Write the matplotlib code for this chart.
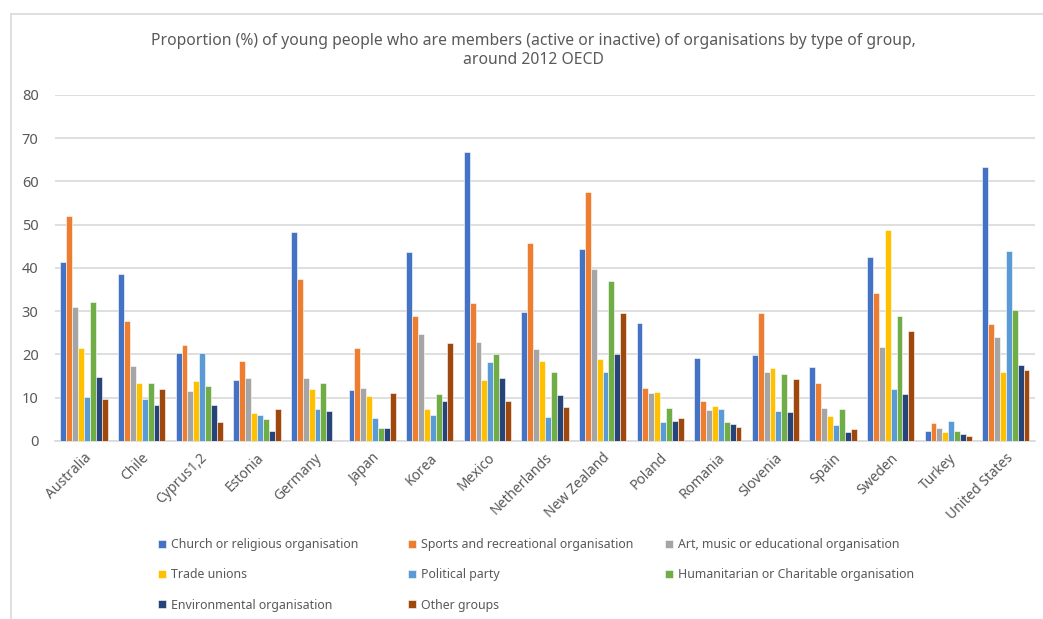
import matplotlib.pyplot as plt
import numpy as np
from matplotlib.lines import Line2D

plt.rcParams['font.family'] = ['Noto Sans', 'DejaVu Sans']

# dane (%)
countries = ["Australia", "Chile", "Cyprus1,2", "Estonia", "Germany", "Japan", "Korea",
             "Mexico", "Netherlands", "New Zealand", "Poland", "Romania", "Slovenia",
             "Spain", "Sweden", "Turkey", "United States"]

series_names = ["Church or religious organisation", "Sports and recreational organisation",
                "Art, music or educational organisation", "Trade unions", "Political party",
                "Humanitarian or Charitable organisation", "Environmental organisation",
                "Other groups"]

church = [41.3, 38.6, 20.3, 14.2, 48.3, 11.9, 43.7, 66.8, 29.8, 44.5, 27.3, 19.2, 19.8, 17.2, 42.6, 2.3, 63.3]
sports = [52.0, 27.8, 22.3, 18.4, 37.5, 21.6, 28.9, 32.0, 45.7, 57.6, 12.3, 9.3, 29.5, 13.5, 34.1, 4.2, 27.1]
art = [31.0, 17.4, 11.6, 14.6, 14.6, 12.2, 24.7, 22.9, 21.3, 39.8, 11.1, 7.1, 16.0, 7.6, 21.8, 3.1, 24.0]
trade = [21.5, 13.4, 13.8, 6.4, 12.0, 10.3, 7.4, 14.1, 18.6, 18.9, 11.3, 8.2, 16.8, 5.8, 48.7, 2.1, 16.0]
political = [10.1, 9.6, 20.3, 6.0, 7.3, 5.2, 6.0, 18.3, 5.6, 16.0, 4.3, 7.4, 7.0, 3.6, 12.0, 4.7, 43.9]
humanitarian = [32.2, 13.4, 12.8, 5.1, 13.4, 2.9, 10.9, 20.1, 16.0, 37.0, 7.6, 4.4, 15.6, 7.3, 28.8, 2.3, 30.3]
environmental = [14.8, 8.3, 8.3, 2.2, 6.9, 3.1, 9.3, 14.5, 10.7, 20.2, 4.7, 3.9, 6.6, 2.0, 10.8, 1.7, 17.5]
other = [9.6, 12.0, 4.5, 7.3, np.nan, 11.1, 22.7, 9.3, 7.8, 29.5, 5.4, 3.3, 14.3, 2.7, 25.4, 1.1, 16.4]

all_series = [church, sports, art, trade, political, humanitarian, environmental, other]
colors = ["#4472C4", "#ED7D31", "#A5A5A5", "#FFC000", "#5B9BD5", "#70AD47", "#264478", "#9E480E"]

txt = "#595959"
grid_c = "#D9D9D9"

fig = plt.figure(figsize=(10.43, 6.19), dpi=100)
ax = fig.add_axes([0.053, 0.2876, 0.939, 0.559])

x = np.arange(len(countries))
n = len(all_series)
bw = 0.82 / n
bars = []
for i, (vals, col) in enumerate(zip(all_series, colors)):
    b = ax.bar(x - 0.41 + bw * (i + 0.5), vals, width=bw, color=col,
               edgecolor="white", linewidth=0.4, label=series_names[i], zorder=3)
    bars.append(b)

ax.set_xlim(-0.5, len(countries) - 0.5)
ax.set_ylim(0, 80)
ax.set_yticks(range(0, 81, 10))
ax.yaxis.grid(True, color=grid_c, linewidth=1.2, zorder=0)
for s in ["top", "right", "left"]:
    ax.spines[s].set_visible(False)
ax.spines["bottom"].set_color(grid_c)
ax.spines["bottom"].set_linewidth(1.2)
ax.tick_params(axis="both", length=0, colors=txt, labelsize=10.5)
ax.tick_params(axis="y", pad=12)
ax.tick_params(axis="x", pad=7, labelsize=10)
ax.set_xticks(x)
ax.set_xticklabels(countries, rotation=45, ha="right", rotation_mode="anchor")

fig.suptitle("Proportion (%) of young people who are members (active or inactive) of organisations by type of group,\naround 2012 OECD",
             x=0.511, y=0.947, fontsize=11.3, color=txt, linespacing=1.25)

# legenda w trzech kolumnach o stałej szerokości (jak w Excelu)
legend_cols = [[0, 3, 6], [1, 4, 7], [2, 5]]
col_x = [158, 408, 665]
for cx, idx in zip(col_x, legend_cols):
    lg = fig.legend([bars[i] for i in idx], [series_names[i] for i in idx],
                    loc="upper left", bbox_to_anchor=(cx / 1043, 1 - 538 / 619),
                    frameon=False, fontsize=8.9, labelcolor=txt,
                    handlelength=0.65, handleheight=0.65, handletextpad=0.4,
                    labelspacing=1.4, borderpad=0, borderaxespad=0)

# ramka wykresu (widoczna lewa i górna krawędź)
fig.add_artist(Line2D([11 / 1043, 11 / 1043], [0, 1 - 14 / 619], color=grid_c, linewidth=1.2))
fig.add_artist(Line2D([11 / 1043, 1], [1 - 14 / 619, 1 - 14 / 619], color=grid_c, linewidth=1.2))

fig.savefig("out.png", dpi=100)
